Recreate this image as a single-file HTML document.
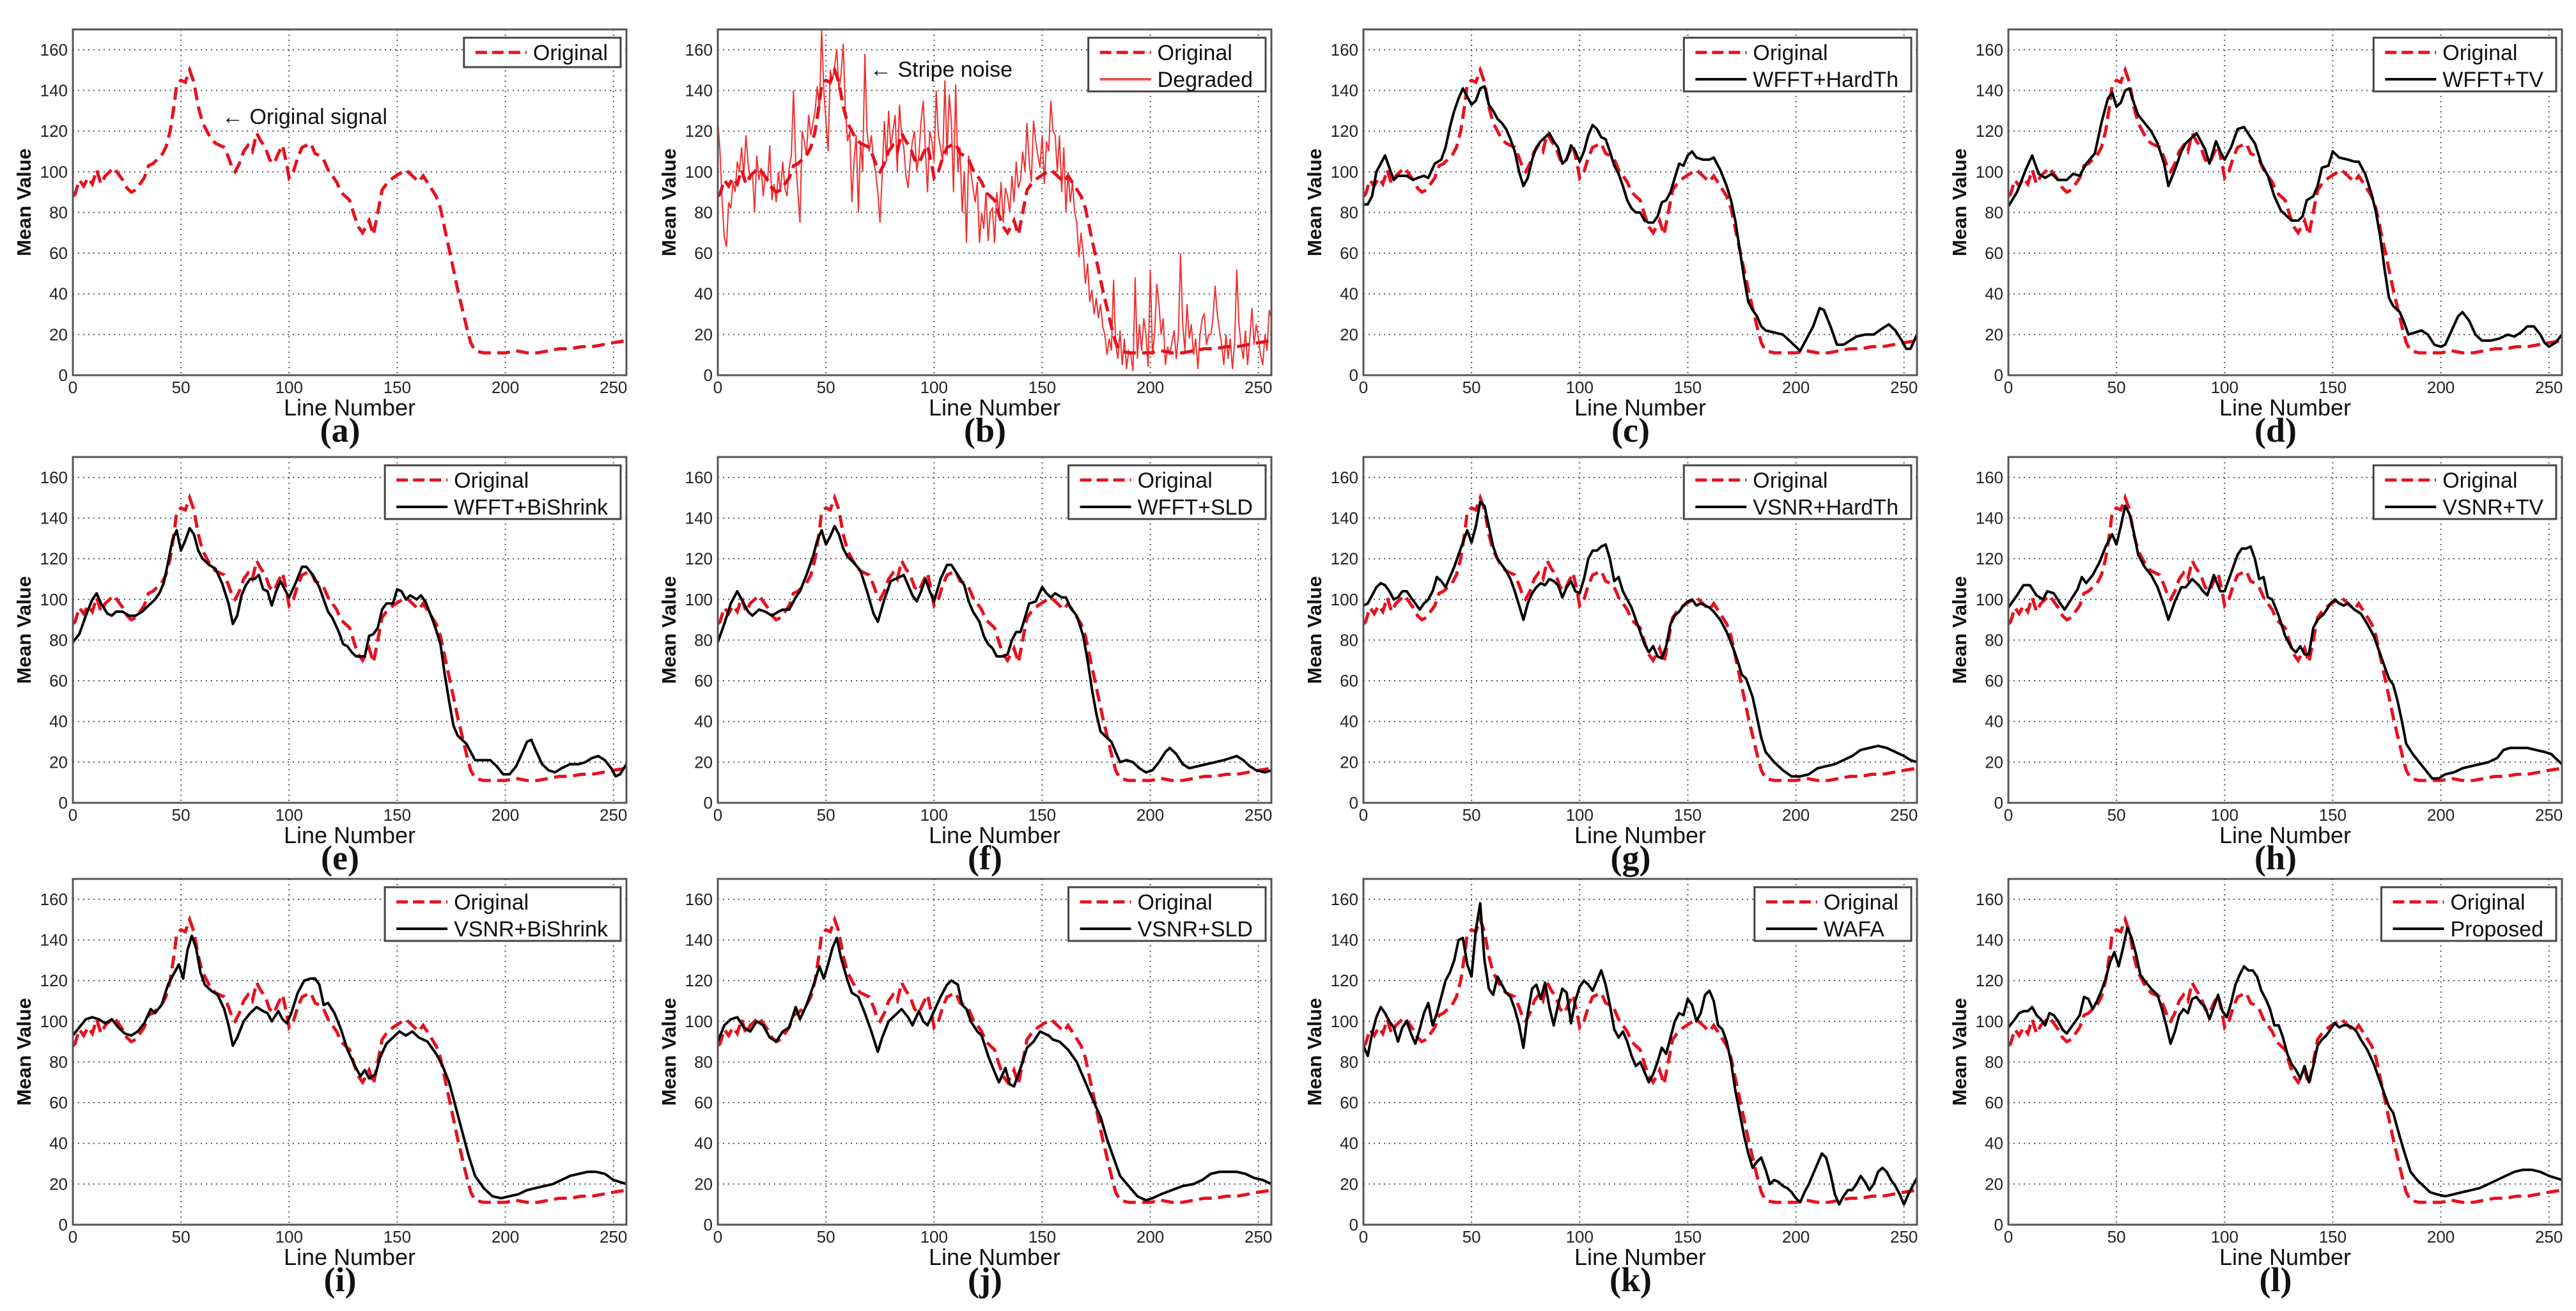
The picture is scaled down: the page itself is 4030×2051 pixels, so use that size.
<!DOCTYPE html>
<html><head><meta charset="utf-8"><title>Mean value profiles</title>
<style>
html,body{margin:0;padding:0;background:#fff;}
svg{display:block;}
.tick{font-family:"Liberation Sans",sans-serif;font-size:26px;fill:#222;}
.xt{font-family:"Liberation Sans",sans-serif;font-size:36px;fill:#111;}
.yt{font-family:"Liberation Sans",sans-serif;font-size:31px;font-weight:bold;fill:#111;}
.pl{font-family:"Liberation Serif",serif;font-size:54px;font-weight:bold;fill:#111;}
.lg{font-family:"Liberation Sans",sans-serif;font-size:34px;fill:#111;}
</style></head>
<body>
<svg id="fig" width="4030" height="2051" viewBox="0 0 4030 2051" xmlns="http://www.w3.org/2000/svg"></svg>
<script>
// ---- data ----
const xTicks = [0, 50, 100, 150, 200, 250];
const yTicks = [0, 20, 40, 60, 80, 100, 120, 140, 160];
const panelLetters = ["(a)","(b)","(c)","(d)","(e)","(f)","(g)","(h)","(i)","(j)","(k)","(l)"];
const methodNames = ["", "Degraded", "WFFT+HardTh", "WFFT+TV", "WFFT+BiShrink", "WFFT+SLD", "VSNR+HardTh", "VSNR+TV", "VSNR+BiShrink", "VSNR+SLD", "WAFA", "Proposed"];

const original = [[0,88],[1,89],[3,96],[5,93],[7,97],[9,94],[11,101],[13,94],[15,98],[17,100],[19,102],[21,99],[23,96],[25,92],[27,90],[29,91],[31,94],[33,97],[35,103],[37,104],[39,106],[41,108],[43,112],[45,120],[47,134],[48,143],[50,145],[52,144],[54,150],[56,144],[58,132],[60,124],[62,120],[64,116],[66,114],[68,113],[70,112],[72,107],[74,101],[75,100],[77,104],[79,110],[81,113],[83,110],[85,119],[87,115],[89,112],[91,106],[93,104],[95,109],[97,113],[99,103],[100,97],[102,100],[104,107],[106,112],[108,113],[110,114],[112,109],[114,108],[116,106],[118,101],[120,98],[122,95],[124,90],[126,88],[128,86],[130,79],[132,73],[134,70],[136,74],[137,76],[139,69],[141,80],[143,91],[145,94],[148,97],[151,99],[154,101],[157,98],[160,95],[162,98],[165,93],[168,88],[170,82],[172,72],[174,62],[176,52],[178,42],[180,33],[182,24],[184,16],[186,12],[190,11],[195,11],[200,11],[205,12],[210,11],[215,11],[220,12],[225,13],[230,13],[235,14],[240,14],[245,15],[250,16],[256,17]];

const degraded = [[0,125],[1,110],[2,85],[3,68],[4,63],[5,85],[6,82],[7,95],[8,90],[9,105],[10,100],[11,112],[12,98],[13,118],[14,104],[15,96],[16,100],[17,80],[18,108],[19,96],[20,102],[21,88],[22,98],[23,95],[24,113],[25,86],[26,94],[27,85],[28,100],[29,90],[30,105],[31,92],[32,88],[33,102],[34,108],[35,140],[36,105],[37,90],[38,75],[39,120],[40,115],[41,108],[42,128],[43,118],[44,124],[45,130],[46,142],[47,130],[48,170],[49,140],[50,125],[51,110],[52,150],[53,145],[54,152],[55,160],[56,140],[57,148],[58,163],[59,130],[60,115],[61,120],[62,85],[63,105],[64,118],[65,80],[66,115],[67,100],[68,158],[69,120],[70,110],[71,118],[72,105],[73,100],[74,90],[75,75],[76,98],[77,125],[78,105],[79,130],[80,112],[81,120],[82,128],[83,100],[84,133],[85,118],[86,112],[87,98],[88,92],[89,106],[90,115],[91,120],[92,100],[93,108],[94,125],[95,135],[96,110],[97,90],[98,120],[99,115],[100,105],[101,140],[102,118],[103,112],[104,105],[105,145],[106,108],[107,138],[108,125],[109,90],[110,143],[111,100],[112,112],[113,80],[114,100],[115,65],[116,108],[117,100],[118,92],[119,85],[120,95],[121,65],[122,80],[123,72],[124,90],[125,66],[126,80],[127,82],[128,65],[129,90],[130,78],[131,95],[132,75],[133,92],[134,88],[135,80],[136,98],[137,85],[138,105],[139,92],[140,96],[141,110],[142,100],[143,124],[144,105],[145,95],[146,125],[147,115],[148,108],[149,102],[150,118],[151,94],[152,115],[153,110],[154,135],[155,120],[156,118],[157,100],[158,118],[159,90],[160,112],[161,80],[162,100],[163,85],[164,95],[165,80],[166,75],[167,58],[168,70],[169,60],[170,45],[171,55],[172,36],[173,42],[174,30],[175,38],[176,28],[177,35],[178,24],[179,20],[180,10],[181,18],[182,12],[183,47],[184,15],[185,8],[186,22],[187,5],[188,18],[189,3],[190,12],[191,10],[192,2],[193,48],[194,8],[195,25],[196,12],[197,28],[198,20],[199,4],[200,52],[201,10],[202,20],[203,45],[204,35],[205,20],[206,28],[207,5],[208,14],[209,10],[210,16],[211,22],[212,8],[213,20],[214,60],[215,25],[216,12],[217,35],[218,18],[219,25],[220,10],[221,18],[222,3],[223,20],[224,28],[225,30],[226,15],[227,20],[228,20],[229,28],[230,44],[231,30],[232,22],[233,15],[234,5],[235,20],[236,8],[237,18],[238,3],[239,16],[240,52],[241,25],[242,15],[243,8],[244,22],[245,5],[246,18],[247,33],[248,15],[249,25],[250,18],[251,10],[252,5],[253,20],[254,12],[255,32],[256,28]];

const wfftHardTh = [[0,84],[2,84],[4,88],[6,100],[8,104],[10,108],[12,102],[14,96],[16,98],[20,98],[23,96],[25,97],[28,98],[30,97],[33,104],[36,106],[38,112],[40,122],[42,130],[44,136],[46,141],[48,137],[50,133],[52,135],[54,141],[56,142],[58,133],[60,130],[62,126],[64,124],[66,121],[68,116],[70,110],[72,100],[74,93],[76,97],[78,106],[80,112],[82,115],[84,117],[86,119],[88,115],[90,112],[92,104],[94,106],[96,113],[98,110],[100,105],[102,110],[104,118],[106,123],[108,121],[110,117],[112,116],[114,110],[116,103],[118,99],[120,93],[122,86],[124,82],[126,80],[128,80],[130,76],[132,75],[134,75],[136,78],[138,85],[140,86],[142,90],[144,97],[146,104],[148,103],[150,108],[152,110],[154,107],[157,106],[160,106],[162,107],[165,101],[168,93],[170,86],[172,76],[174,62],[176,48],[178,36],[180,32],[182,29],[184,24],[186,22],[190,21],[194,20],[198,16],[202,12],[205,18],[208,24],[211,33],[213,32],[216,24],[219,15],[222,15],[225,17],[228,19],[232,20],[236,20],[240,23],[243,25],[246,22],[249,17],[251,13],[253,13],[256,20]];

const wfftTV = [[0,83],[4,90],[8,101],[11,108],[14,99],[17,97],[20,99],[23,96],[27,96],[30,99],[33,98],[36,104],[40,109],[43,124],[46,136],[48,139],[50,132],[52,134],[54,140],[56,141],[58,134],[60,128],[63,124],[66,120],[69,114],[72,104],[74,93],[77,101],[80,110],[82,114],[85,117],[87,119],[89,115],[91,111],[93,104],[96,115],[98,110],[100,106],[103,112],[106,121],[109,122],[112,117],[114,114],[117,104],[120,98],[123,88],[126,81],[128,79],[131,76],[134,76],[136,78],[138,86],[141,88],[143,93],[145,102],[148,103],[150,110],[153,107],[157,106],[160,105],[162,105],[165,99],[168,89],[170,80],[172,68],[174,52],[176,38],[178,34],[181,31],[183,26],[185,20],[188,21],[191,22],[194,20],[197,15],[200,14],[202,15],[205,22],[208,29],[210,31],[213,27],[216,20],[219,17],[223,17],[227,18],[231,20],[234,19],[237,21],[240,24],[243,24],[246,20],[248,16],[250,14],[253,16],[256,20]];

const wfftBiShrink = [[0,79],[3,83],[6,92],[9,100],[11,103],[13,98],[16,93],[18,92],[20,94],[23,94],[26,92],[29,92],[32,94],[35,97],[38,100],[40,103],[42,108],[44,118],[46,129],[48,134],[50,124],[52,129],[54,135],[56,132],[58,124],[60,120],[63,117],[66,115],[69,108],[72,98],[74,88],[76,92],[78,102],[80,107],[82,110],[84,110],[86,112],[88,105],[90,104],[92,97],[94,104],[96,109],[98,105],[100,101],[103,108],[106,116],[108,116],[111,112],[114,106],[116,100],[118,94],[120,91],[123,84],[125,78],[127,77],[129,74],[131,72],[133,72],[135,72],[137,82],[139,83],[141,86],[143,95],[145,98],[148,98],[150,105],[152,104],[154,100],[156,102],[159,100],[161,102],[163,99],[166,91],[168,85],[170,78],[172,63],[174,50],[176,38],[178,33],[180,31],[182,29],[184,25],[186,21],[190,21],[193,21],[196,18],[199,14],[202,14],[205,18],[208,25],[210,30],[212,31],[214,26],[217,19],[220,16],[223,15],[226,17],[230,19],[234,19],[237,20],[240,22],[243,23],[246,21],[249,17],[251,13],[253,14],[256,19]];

const wfftSLD = [[0,79],[3,88],[6,98],[9,104],[11,100],[14,94],[16,92],[19,95],[22,94],[25,92],[28,94],[30,95],[33,95],[36,101],[38,104],[41,112],[44,121],[46,129],[48,134],[50,127],[52,131],[54,136],[56,132],[58,125],[60,121],[63,118],[66,114],[69,104],[72,93],[74,89],[77,100],[80,109],[82,110],[84,111],[86,112],[88,107],[90,102],[92,99],[94,104],[96,110],[98,104],[100,99],[103,110],[106,117],[108,117],[111,112],[114,107],[116,99],[118,94],[121,89],[123,82],[125,78],[127,76],[129,72],[132,72],[134,73],[136,80],[138,84],[140,84],[142,91],[144,98],[147,99],[150,106],[152,103],[154,101],[156,103],[159,101],[161,101],[163,96],[166,92],[169,82],[171,70],[173,56],[175,44],[177,35],[180,32],[182,30],[184,25],[186,20],[189,21],[192,20],[195,17],[198,15],[201,16],[204,20],[207,25],[209,27],[212,24],[215,19],[218,17],[222,18],[226,19],[230,20],[234,21],[237,22],[240,23],[243,21],[246,18],[249,16],[253,15],[256,16]];

const vsnrHardTh = [[0,97],[2,98],[4,102],[6,106],[8,108],[10,107],[12,104],[14,100],[16,101],[18,104],[20,104],[22,101],[24,98],[26,95],[28,98],[30,100],[32,104],[34,111],[36,109],[38,106],[40,111],[42,116],[44,122],[46,128],[48,134],[50,128],[52,136],[54,148],[56,146],[58,136],[60,126],[62,120],[64,117],[66,114],[68,110],[70,104],[72,97],[74,90],[76,98],[78,103],[80,106],[82,108],[84,107],[86,110],[88,109],[90,107],[92,101],[94,106],[96,109],[98,104],[100,103],[102,110],[104,120],[106,124],[108,124],[110,126],[112,127],[114,120],[116,109],[118,111],[120,104],[122,100],[124,96],[126,90],[128,84],[130,78],[132,74],[134,77],[136,72],[138,71],[140,77],[142,88],[144,92],[146,94],[148,97],[150,99],[152,100],[154,97],[156,98],[158,97],[160,96],[162,94],[165,90],[168,84],[171,76],[173,70],[175,63],[177,61],[180,52],[182,42],[184,32],[186,25],[190,20],[194,16],[198,13],[202,13],[206,14],[210,17],[214,18],[218,19],[222,21],[226,23],[230,26],[234,27],[238,28],[242,27],[246,25],[250,23],[253,21],[256,20]];

const vsnrTV = [[0,96],[4,102],[7,107],[10,107],[13,102],[16,100],[18,104],[21,103],[24,98],[26,95],[29,100],[32,105],[34,111],[36,108],[39,112],[42,118],[45,126],[48,132],[50,127],[52,136],[54,146],[56,142],[58,133],[60,122],[63,116],[66,112],[69,106],[72,97],[74,90],[77,99],[80,106],[82,106],[85,110],[88,107],[90,104],[92,102],[95,112],[98,104],[100,104],[103,113],[106,122],[108,125],[110,125],[112,126],[114,120],[116,110],[118,111],[120,101],[122,100],[125,92],[128,82],[131,76],[133,74],[135,77],[137,73],[139,73],[141,86],[143,90],[146,93],[149,98],[151,100],[153,98],[155,97],[157,98],[160,95],[163,93],[166,88],[169,82],[172,73],[174,67],[176,61],[178,58],[180,50],[182,40],[184,29],[187,24],[190,20],[193,16],[196,12],[199,12],[202,14],[206,15],[210,17],[214,18],[218,19],[222,20],[226,22],[229,26],[232,27],[236,27],[240,27],[244,26],[248,25],[251,24],[254,21],[256,19]];

const vsnrBiShrink = [[0,93],[3,97],[6,101],[9,102],[12,101],[15,99],[18,101],[21,97],[24,94],[27,93],[30,95],[33,99],[36,106],[38,104],[41,108],[44,118],[47,124],[49,128],[51,121],[53,135],[55,142],[57,136],[59,124],[61,118],[64,115],[67,113],[70,106],[72,98],[74,88],[76,92],[79,100],[82,104],[85,107],[88,105],[90,104],[92,100],[95,105],[97,101],[99,99],[101,104],[104,114],[107,120],[110,121],[112,121],[114,118],[116,108],[118,109],[121,104],[124,96],[127,86],[130,79],[133,73],[135,76],[137,72],[140,74],[142,82],[145,89],[148,92],[151,95],[154,93],[157,95],[160,92],[164,90],[168,84],[171,78],[174,70],[177,58],[180,46],[183,34],[186,24],[190,18],[194,14],[198,13],[202,14],[206,15],[210,17],[214,18],[218,19],[222,20],[226,22],[230,24],[234,25],[238,26],[242,26],[246,25],[250,22],[253,21],[256,20]];

const vsnrSLD = [[0,90],[3,98],[6,101],[9,102],[12,97],[15,95],[18,100],[21,98],[24,92],[27,90],[30,95],[33,97],[36,107],[38,101],[41,108],[44,117],[47,127],[49,121],[51,128],[53,136],[55,141],[57,131],[60,120],[62,114],[65,112],[68,104],[71,95],[74,85],[76,92],[79,100],[82,103],[85,106],[88,102],[90,98],[93,105],[95,100],[97,98],[100,105],[103,112],[106,118],[108,120],[111,118],[113,108],[115,106],[117,100],[120,95],[122,93],[125,83],[128,75],[130,70],[133,77],[135,69],[137,68],[140,77],[143,87],[146,90],[149,95],[151,94],[153,93],[155,91],[158,90],[162,86],[166,80],[170,70],[174,60],[177,53],[180,42],[183,33],[186,24],[190,19],[194,14],[198,12],[201,13],[205,15],[210,17],[215,19],[220,20],[224,22],[228,25],[232,26],[236,26],[240,26],[244,25],[248,23],[252,22],[256,20]];

const wafa = [[0,88],[2,83],[4,94],[6,102],[8,107],[10,104],[12,100],[14,97],[16,90],[18,97],[20,100],[22,94],[24,89],[26,96],[28,104],[30,109],[32,98],[34,104],[36,112],[38,120],[40,124],[42,130],[44,140],[46,141],[48,128],[50,122],[52,145],[54,158],[56,130],[58,116],[60,113],[62,122],[64,118],[66,114],[68,112],[70,106],[72,98],[74,87],[76,104],[78,116],[80,118],[82,111],[84,119],[86,107],[88,98],[90,108],[92,116],[94,114],[96,99],[98,110],[100,117],[102,120],[104,118],[106,115],[108,120],[110,125],[112,118],[114,108],[116,96],[118,92],[120,95],[122,90],[124,83],[126,78],[128,80],[130,75],[132,70],[134,74],[136,80],[138,87],[140,84],[142,92],[144,100],[146,104],[148,103],[150,111],[152,108],[154,100],[156,104],[158,113],[160,115],[162,110],[164,98],[166,96],[168,90],[170,80],[172,66],[174,55],[176,44],[178,35],[180,28],[182,31],[184,33],[186,27],[188,20],[190,22],[192,21],[194,19],[196,18],[198,16],[200,13],[202,11],[204,16],[206,20],[208,25],[210,30],[212,35],[214,33],[216,25],[218,15],[220,10],[222,14],[224,17],[226,17],[228,20],[230,24],[232,21],[234,17],[236,20],[238,26],[240,28],[242,26],[244,22],[246,19],[248,15],[250,10],[252,15],[254,19],[256,23]];

const proposed = [[0,97],[3,101],[5,104],[7,105],[9,105],[11,107],[13,103],[15,101],[17,98],[19,104],[21,103],[23,100],[25,96],[27,94],[29,97],[31,100],[33,103],[35,112],[37,111],[39,106],[41,110],[43,115],[45,121],[47,129],[49,134],[51,127],[53,136],[55,146],[57,141],[59,133],[61,123],[63,120],[66,116],[69,113],[71,106],[73,98],[75,89],[77,95],[79,103],[81,106],[83,104],[85,111],[87,112],[89,109],[91,107],[93,101],[95,107],[97,113],[99,105],[101,102],[103,109],[105,118],[107,123],[109,127],[111,125],[113,125],[115,122],[117,115],[119,111],[121,106],[123,98],[125,98],[127,92],[129,84],[131,79],[133,76],[135,72],[137,78],[139,70],[141,78],[143,88],[145,91],[147,93],[149,96],[151,99],[153,97],[155,98],[157,98],[159,97],[161,95],[163,91],[166,86],[169,79],[172,70],[174,64],[176,58],[178,55],[180,47],[183,36],[186,26],[189,22],[192,19],[195,16],[198,15],[202,14],[206,15],[210,16],[214,17],[218,18],[222,20],[226,22],[230,24],[234,26],[238,27],[242,27],[246,26],[250,24],[253,23],[256,22]];

const methodSeries = [null, degraded, wfftHardTh, wfftTV, wfftBiShrink, wfftSLD, vsnrHardTh, vsnrTV, vsnrBiShrink, vsnrSLD, wafa, proposed];

// ---- layout ----
const colLeft = [114, 1123, 2133, 3142];
const rowTop = [46, 715, 1375];
const PW = 866, PH = 541, XMAX = 256, YMAX = 170;
const NS = "http://www.w3.org/2000/svg";
const svg = document.getElementById('fig');

function mk(tag, attrs, parent) {
  const e = document.createElementNS(NS, tag);
  for (const k in attrs) e.setAttribute(k, attrs[k]);
  (parent || svg).appendChild(e);
  return e;
}

const defs = mk('defs', {});

function drawPanel(i) {
  const L = colLeft[i % 4], T = rowTop[Math.floor(i / 4)];
  const sx = v => L + v / XMAX * PW;
  const sy = v => T + PH - v / YMAX * PH;
  const g = mk('g', {});
  
  

  const cp = mk('clipPath', {id: 'clip' + i}, defs);
  mk('rect', {x: L, y: T, width: PW, height: PH}, cp);

  // grid
  xTicks.forEach(t => {
    const gl = mk('line', {x1: sx(t), x2: sx(t), y1: T, y2: T + PH, stroke: '#555', 'stroke-width': 2, 'stroke-dasharray': '2,6'}, g);
    
    
    const tl = mk('text', {x: sx(t), y: T + PH + 28, 'text-anchor': 'middle', class: 'tick'}, g);
    tl.textContent = t;
    
    
  });
  yTicks.forEach(t => {
    const gl = mk('line', {x1: L, x2: L + PW, y1: sy(t), y2: sy(t), stroke: '#555', 'stroke-width': 2, 'stroke-dasharray': '2,6'}, g);
    
    
    const tl = mk('text', {x: L - 8, y: sy(t) + 9, 'text-anchor': 'end', class: 'tick'}, g);
    tl.textContent = t;
    
    
  });

  const toPath = arr => arr.map((p, k) => (k ? 'L' : 'M') + sx(p[0]).toFixed(1) + ',' + sy(p[1]).toFixed(1)).join('');

  // series
  const ser = methodSeries[i];
  if (i === 1) {
    const dp = mk('path', {d: toPath(degraded), fill: 'none', stroke: '#f03030', 'stroke-width': 2, 'clip-path': 'url(#clip' + i + ')'}, g);
    
    
  }
  const op = mk('path', {d: toPath(original), fill: 'none', stroke: '#e8101e', 'stroke-width': 5, 'stroke-dasharray': '20,10', 'clip-path': 'url(#clip' + i + ')'}, g);
  
  
  if (ser && i !== 1) {
    const bp = mk('path', {d: toPath(ser), fill: 'none', stroke: '#000', 'stroke-width': 4, 'stroke-linejoin': 'round', 'clip-path': 'url(#clip' + i + ')'}, g);
    
    
  }

  // frame
  const fr = mk('rect', {x: L, y: T, width: PW, height: PH, fill: 'none', stroke: '#555', 'stroke-width': 3}, g);
  
  

  // axis titles
  const xl = mk('text', {x: L + PW / 2, y: T + PH + 63, 'text-anchor': 'middle', class: 'xt'}, g);
  xl.textContent = 'Line Number';
  
  
  const cy = T + PH / 2;
  const yl = mk('text', {x: L - 66, y: cy, 'text-anchor': 'middle', class: 'yt', transform: 'rotate(-90 ' + (L - 66) + ' ' + cy + ')'}, g);
  yl.textContent = 'Mean Value';
  
  

  // panel letter
  const pl = mk('text', {x: L + PW / 2 - 15, y: T + PH + 104, 'text-anchor': 'middle', class: 'pl'}, g);
  pl.textContent = panelLetters[i];
  
  

  // legend
  const entries = [['Original', 'orig']];
  if (i > 0) entries.push([methodNames[i], i === 1 ? 'deg' : 'black']);
  const lg = mk('g', {}, g);
  
  
  const box = mk('rect', {fill: '#fff', stroke: '#444', 'stroke-width': 3}, lg);
  const texts = [];
  entries.forEach((e, k) => {
    const ly = T + 36 + k * 42;
    const ln = mk('line', {y1: ly, y2: ly, stroke: e[1] === 'black' ? '#000' : (e[1] === 'deg' ? '#f05050' : '#e8101e'), 'stroke-width': e[1] === 'orig' ? 5 : 4, 'stroke-dasharray': e[1] === 'orig' ? '18,8' : 'none'}, lg);
    
    
    const tx = mk('text', {y: ly + 12, class: 'lg'}, lg);
    tx.textContent = e[0];
    
    
    texts.push([ln, tx]);
  });
  let maxW = 0;
  texts.forEach(p => { maxW = Math.max(maxW, p[1].getComputedTextLength()); });
  const bw = 20 + 80 + 10 + maxW + 18;
  const bx = L + PW - 9 - bw;
  const bh = entries.length === 1 ? 46 : 84;
  box.setAttribute('x', bx); box.setAttribute('y', T + 13);
  box.setAttribute('width', bw); box.setAttribute('height', bh);
  texts.forEach(p => {
    p[0].setAttribute('x1', bx + 18); p[0].setAttribute('x2', bx + 98);
    p[1].setAttribute('x', bx + 108);
  });
  if (entries.length === 1) {
    texts[0][0].setAttribute('y1', T + 36); texts[0][0].setAttribute('y2', T + 36);
  }

  // annotations
  if (i === 0 || i === 1) {
    const at = mk('text', {x: i === 0 ? 347 : 1361, y: i === 0 ? 194 : 120, class: 'lg'}, g);
    at.textContent = i === 0 ? '\u2190 Original signal' : '\u2190 Stripe noise';
    
    
  }
}

for (let i = 0; i < 12; i++) drawPanel(i);
</script>
</body></html>
